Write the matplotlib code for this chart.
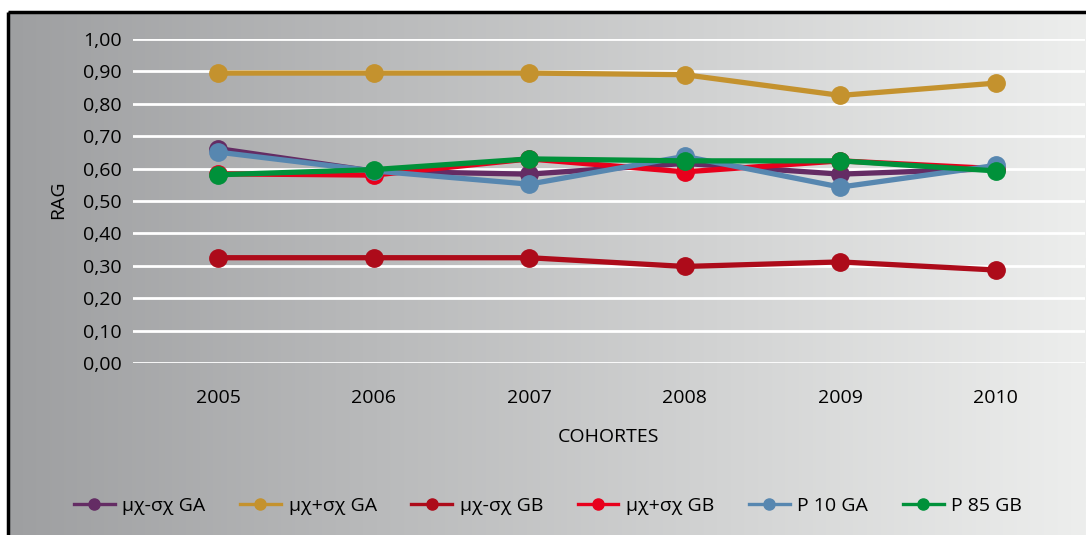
import numpy as np
import matplotlib
matplotlib.use("Agg")
import matplotlib.pyplot as plt
from matplotlib.lines import Line2D

plt.rcParams['font.family'] = ['Open Sans', 'DejaVu Sans']

years = ["2005", "2006", "2007", "2008", "2009", "2010"]
series_names = ["μχ-σχ GA", "μχ+σχ GA", "μχ-σχ GB", "μχ+σχ GB", "P 10 GA", "P 85 GB"]
mu_minus_ga = [0.662, 0.592, 0.583, 0.616, 0.583, 0.600]
mu_plus_ga = [0.895, 0.895, 0.895, 0.890, 0.826, 0.864]
mu_minus_gb = [0.325, 0.325, 0.325, 0.298, 0.312, 0.287]
mu_plus_gb = [0.584, 0.580, 0.630, 0.590, 0.624, 0.600]
p10_ga = [0.651, 0.593, 0.552, 0.638, 0.543, 0.610]
p85_gb = [0.581, 0.597, 0.630, 0.624, 0.624, 0.593]
colors = ["#642C64", "#C4922E", "#AD0B1A", "#E8001C", "#5787B0", "#00913A"]
yticks = [0.0, 0.1, 0.2, 0.3, 0.4, 0.5, 0.6, 0.7, 0.8, 0.9, 1.0]

data = [mu_minus_ga, mu_plus_ga, mu_minus_gb, mu_plus_gb, p10_ga, p85_gb]

fig = plt.figure(figsize=(10.86, 5.35), dpi=100)

# background gradient panel
bg = fig.add_axes([0, 0, 1, 1], zorder=-10)
bg.set_xlim(0, 1086)
bg.set_ylim(535, 0)
bg.axis('off')
grad = np.linspace(0, 1, 512)[None, :]
c0 = np.array([158, 159, 161]) / 255
c1 = np.array([237, 238, 237]) / 255
img = c0[None, None, :] * (1 - grad[..., None]) + c1[None, None, :] * grad[..., None]
bg.imshow(img, extent=[8, 1086, 535, 12], aspect='auto', interpolation='bilinear')
bg.plot([8, 1086], [12, 12], color='black', lw=2.5, solid_capstyle='butt')
bg.plot([8, 8], [12, 535], color='black', lw=2.5, solid_capstyle='butt')

ax = fig.add_axes([0.1225, 0.3215, 0.8765, 0.6055])
ax.patch.set_alpha(0)
x = np.arange(len(years))
for vals, c in zip(data, colors):
    ax.plot(x, vals, color=c, lw=3.8, marker='o', markersize=12.5, clip_on=False, zorder=3)

ax.set_xlim(-0.546, 5.572)
ax.set_ylim(0, 1.0)
ax.set_yticks(yticks)
ax.set_yticklabels([f"{v:.2f}".replace('.', ',') for v in yticks], fontsize=14)
ax.set_xticks(x)
ax.set_xticklabels(years, fontsize=14)
ax.tick_params(length=0, pad=19, axis='x')
ax.tick_params(length=0, pad=8, axis='y')
for s in ax.spines.values():
    s.set_visible(False)
ax.yaxis.grid(True, color='white', lw=2)
ax.set_axisbelow(True)

fig.text(58 / 1086, 1 - 200 / 535, "RAG", rotation=90, ha='center', va='center', fontsize=14)
fig.text(608 / 1086, 1 - 437 / 535, "COHORTES", ha='center', va='center', fontsize=14)

handles = [Line2D([0], [0], color=c, lw=2.4, marker='o', markersize=8) for c in colors]
fig.legend(handles, series_names, loc='center', bbox_to_anchor=(548 / 1086, 1 - 506 / 535),
           ncol=6, frameon=False, fontsize=14, handlelength=2.1, handletextpad=0.4,
           columnspacing=1.77)

fig.savefig("out.png", dpi=100)
